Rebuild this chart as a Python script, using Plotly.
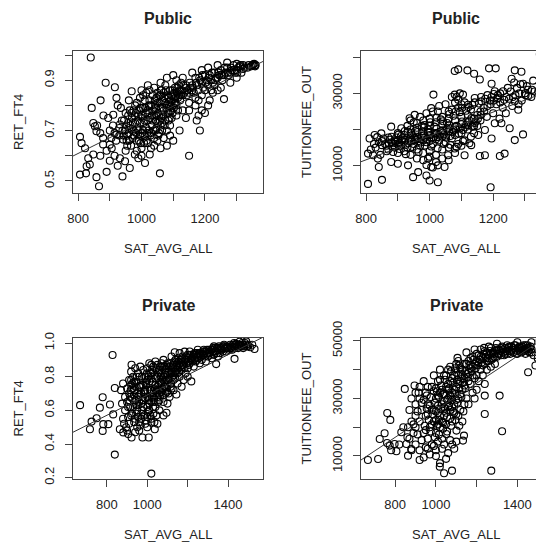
import plotly.graph_objects as go

# public schools: (SAT_AVG_ALL, RET_FT4)
public_ret = [
    (840, 0.99), (806, 0.525), (825, 0.53), (858, 0.515), (866, 0.479), (890, 0.536),
    (940, 0.518), (1058, 0.53), (1150, 0.60), (1184, 0.70), (1260, 0.825), (806, 0.675),
    (811, 0.65), (822, 0.63), (832, 0.59), (827, 0.558), (837, 0.565), (848, 0.605),
    (843, 0.79), (871, 0.82), (887, 0.89), (916, 0.872), (921, 0.83), (969, 0.856),
    (853, 0.717), (858, 0.697), (848, 0.73), (879, 0.67), (879, 0.645), (900, 0.644),
    (906, 0.63), (895, 0.75), (911, 0.763), (932, 0.724), (921, 0.684), (942, 0.664),
    (932, 0.59), (948, 0.578), (963, 0.551), (979, 0.605), (990, 0.59), (1011, 0.571),
    (1026, 0.605), (960, 0.69), (965, 0.72), (970, 0.75), (975, 0.78), (980, 0.80),
    (985, 0.66), (990, 0.70), (995, 0.73), (1000, 0.76), (1005, 0.79), (1010, 0.82),
    (1010, 0.68), (1015, 0.71), (1020, 0.74), (1025, 0.77), (1030, 0.80), (1035, 0.84),
    (1040, 0.87), (1040, 0.67), (1045, 0.70), (1050, 0.73), (1055, 0.76), (1060, 0.79),
    (1065, 0.82), (1070, 0.85), (1075, 0.88), (1080, 0.70), (1085, 0.74), (1090, 0.78),
    (1095, 0.81), (1100, 0.84), (1105, 0.87), (1110, 0.80), (1115, 0.83), (1120, 0.86),
    (1125, 0.89), (1130, 0.84), (1140, 0.87), (1150, 0.85), (1160, 0.88), (1170, 0.91),
    (1180, 0.86), (1190, 0.89), (1200, 0.92), (1210, 0.88), (1220, 0.90), (1230, 0.93),
    (1240, 0.91), (1250, 0.94), (1260, 0.92), (1270, 0.95), (1280, 0.93), (1290, 0.96),
    (1300, 0.94), (1310, 0.955), (1320, 0.96), (1335, 0.95), (1350, 0.96), (1355, 0.965),
    (1358, 0.955), (1360, 0.96), (1174, 0.74), (1180, 0.76), (1190, 0.78), (1200, 0.77),
    (1210, 0.80), (1215, 0.82), (1225, 0.85), (1240, 0.86), (1100, 0.66), (1080, 0.64),
    (1120, 0.70), (1140, 0.75), (1150, 0.78), (1060, 0.63), (1090, 0.68), (900, 0.70),
    (910, 0.72), (920, 0.66), (930, 0.68), (940, 0.70), (950, 0.62), (955, 0.64),
    (945, 0.74), (950, 0.77), (935, 0.79), (925, 0.80), (960, 0.82), (1000, 0.63),
    (1020, 0.65), (1030, 0.63), (1050, 0.66), (1000, 0.86), (1020, 0.88), (1060, 0.89),
    (1080, 0.91), (1100, 0.92), (1130, 0.91), (1160, 0.93), (1190, 0.94), (1210, 0.95),
    (1240, 0.96), (1270, 0.97), (1300, 0.965), (1320, 0.945), (1280, 0.89), (1300, 0.91),
    (1250, 0.87), (1230, 0.88), (860, 0.72), (870, 0.69), (880, 0.76), (890, 0.62),
    (870, 0.60), (900, 0.58), (915, 0.60), (925, 0.56), (985, 0.62), (1000, 0.60),
    (1040, 0.64), (1070, 0.67), (1090, 0.72), (1110, 0.76), (1130, 0.78), (1150, 0.81),
    (1170, 0.83), (1190, 0.84), (1200, 0.86), (1220, 0.86), (1050, 0.85), (1070, 0.78),
    (1090, 0.86), (1110, 0.90), (1140, 0.88), (1160, 0.86), (1170, 0.80), (1180, 0.82),
    (960, 0.66), (975, 0.70), (990, 0.76), (1005, 0.70), (1020, 0.78), (1035, 0.74),
    (1045, 0.79), (1060, 0.72), (1065, 0.70), (980, 0.73), (995, 0.68), (1010, 0.74),
    (1030, 0.69), (1040, 0.76), (1050, 0.81), (1060, 0.84), (1080, 0.80), (1095, 0.84),
    (1075, 0.74), (1085, 0.83),
    (955, 0.68), (962, 0.71), (968, 0.77), (972, 0.67), (978, 0.76), (983, 0.69),
    (988, 0.74), (993, 0.78), (997, 0.65), (1002, 0.69), (1007, 0.73), (1012, 0.79),
    (1016, 0.66), (1022, 0.70), (1027, 0.75), (1032, 0.72), (1037, 0.78), (1042, 0.82),
    (1047, 0.71), (1052, 0.77), (1057, 0.81), (1062, 0.75), (1067, 0.79), (1072, 0.83),
    (1077, 0.86), (1082, 0.77), (1087, 0.80), (1092, 0.82), (1097, 0.86), (1102, 0.79),
    (1107, 0.83), (1112, 0.85), (1117, 0.88), (1122, 0.82), (1127, 0.86), (1135, 0.85),
    (1145, 0.86), (1155, 0.87), (1165, 0.85), (1175, 0.88), (1185, 0.90), (1195, 0.87),
    (1205, 0.90), (1215, 0.92), (1225, 0.89), (1235, 0.91), (1245, 0.92), (1255, 0.90),
    (1265, 0.93), (1275, 0.92), (1285, 0.94), (1295, 0.93), (1305, 0.95), (1315, 0.93),
    (1325, 0.95), (1345, 0.955), (1352, 0.962), (1357, 0.958), (930, 0.71), (938, 0.74),
    (944, 0.68), (952, 0.72), (958, 0.76), (915, 0.69), (905, 0.67), (985, 0.81),
    (995, 0.83), (1015, 0.85), (1025, 0.82), (1045, 0.74), (1055, 0.69), (1065, 0.73),
    (1075, 0.81), (1085, 0.77), (1095, 0.75), (1105, 0.81), (1115, 0.78), (1125, 0.84),
    (948, 0.70), (953, 0.66), (958, 0.73), (963, 0.78), (967, 0.64), (973, 0.73),
    (977, 0.68), (982, 0.77), (987, 0.71), (992, 0.66), (997, 0.79), (1003, 0.75),
    (1008, 0.65), (1013, 0.77), (1018, 0.69), (1023, 0.80), (1028, 0.68), (1033, 0.76),
    (1038, 0.70), (1043, 0.80), (1048, 0.76), (1053, 0.68), (1058, 0.74), (1063, 0.86),
    (1068, 0.76), (1073, 0.72), (1078, 0.79), (1083, 0.84), (1088, 0.75), (1093, 0.80),
    (1098, 0.77), (1103, 0.85), (1108, 0.81), (1113, 0.87), (1118, 0.84), (1132, 0.88),
    (1142, 0.84), (1152, 0.89), (1162, 0.87), (1172, 0.89), (1182, 0.91), (1192, 0.92),
    (1202, 0.89), (1212, 0.91), (1222, 0.93), (1232, 0.90), (1242, 0.93), (1252, 0.92),
    (1262, 0.95), (1272, 0.93), (1282, 0.95), (1292, 0.94), (1302, 0.93), (1312, 0.96),
    (1338, 0.96), (1062, 0.86), (1057, 0.84), (1047, 0.83), (1025, 0.86), (1005, 0.84),
]

# public schools: (SAT_AVG_ALL, TUITIONFEE_OUT)
public_fee = [
    (806, 4975), (850, 6090), (948, 6840), (964, 8230), (990, 7300), (1000, 5900),
    (1026, 5440), (1192, 4040), (1079, 36160), (1090, 36630), (1119, 36350), (1140, 35420),
    (1158, 33840), (1187, 36910), (1208, 36910), (1268, 36350), (1289, 35980), (1258, 34020),
    (1294, 32630), (1347, 40820), (1354, 38490), (1347, 30110), (1310, 29180), (1195, 32630),
    (1205, 30580), (1215, 28710), (1231, 30580), (1268, 27780), (1279, 25460), (1252, 20340),
    (1268, 17080), (1294, 18660), (1226, 21730), (1205, 21730), (1236, 13350), (1221, 12700),
    (1174, 12890), (1158, 12700), (1195, 17540), (1174, 19870), (1012, 29650), (1079, 29650),
    (1105, 29650), (1090, 28250), (1142, 28710), (1163, 27780), (1121, 26850), (811, 17540),
    (827, 18480), (848, 18940), (850, 15680), (806, 13350), (822, 12890), (837, 11960),
    (840, 9630), (879, 20800), (879, 11030), (900, 10560), (932, 10100), (937, 23130),
    (953, 24060), (911, 20340), (932, 19410), (984, 21270), (1005, 25920), (1026, 24990),
    (995, 11960), (1005, 9630), (1026, 10100), (1047, 9630), (1058, 12890), (1079, 14750),
    (1110, 12890), (1131, 15680), (1153, 18480), (860, 16000), (880, 16500), (900, 17000),
    (920, 16500), (940, 17500), (960, 18000), (980, 17000), (1000, 18500), (1020, 19000),
    (1040, 18000), (1060, 19500), (1080, 18500), (1100, 19000), (1120, 20000), (1140, 19000),
    (870, 14500), (890, 15000), (910, 15500), (930, 15000), (950, 16000), (970, 15500),
    (990, 16500), (1010, 16000), (1030, 17000), (1050, 16500), (1070, 17500), (1090, 16000),
    (1110, 17000), (1130, 18000), (1150, 21000), (880, 18000), (900, 19000), (920, 18500),
    (940, 20000), (960, 20500), (980, 19500), (1000, 21000), (1020, 22000), (1040, 21500),
    (1060, 23000), (1080, 22500), (1100, 23500), (1120, 24000), (1140, 23000), (1160, 25000),
    (900, 13500), (920, 14000), (940, 13000), (960, 14500), (980, 13500), (1000, 14000),
    (1020, 13000), (1040, 14500), (1060, 15000), (1080, 13500), (1100, 15500), (950, 22000),
    (970, 23500), (990, 24500), (1010, 25000), (1030, 26500), (1050, 27000), (1070, 25500),
    (1090, 26000), (1110, 27500), (1130, 25500), (1150, 24000), (1170, 26000), (1190, 28000),
    (1210, 27000), (1230, 26000), (1250, 28500), (1270, 29500), (1290, 28000), (1310, 31000),
    (1330, 30500), (1350, 31500), (960, 12000), (980, 11500), (1000, 12500), (1020, 11000),
    (1040, 12000), (1060, 11500), (990, 10200), (1010, 9500), (830, 15000), (840, 16500),
    (855, 17500), (865, 14000), (845, 13000), (815, 14500), (1000, 16800), (1020, 17300),
    (1040, 19800), (1060, 20500), (1080, 20800), (1100, 21500), (1120, 22000), (1140, 21000),
    (1160, 22500), (1180, 23500), (1200, 24500), (1220, 23000), (1240, 24500), (1260, 26500),
    (1280, 27000), (1300, 30000), (1320, 29000),
    (865, 15500), (875, 17200), (885, 16200), (895, 17800), (905, 16300), (915, 17600),
    (925, 15800), (935, 16800), (945, 18500), (955, 17200), (965, 16800), (975, 18200),
    (985, 17800), (995, 19200), (1005, 17600), (1015, 18800), (1025, 17900), (1035, 19500),
    (1045, 18700), (1055, 20200), (1065, 18200), (1075, 19800), (1085, 21000), (1095, 20300),
    (1105, 19900), (1115, 21300), (1125, 22500), (1135, 20800), (1145, 22200), (885, 13800),
    (905, 14600), (925, 13200), (945, 15200), (965, 13800), (985, 15600), (1005, 15300),
    (1025, 14800), (1045, 16000), (1065, 15800), (1085, 15200), (1105, 16800), (1125, 16200),
    (955, 19600), (975, 21000), (995, 20000), (1015, 20800), (1035, 22800), (1055, 21800),
    (1075, 23800), (1095, 24800), (1115, 25200), (1135, 26800), (1155, 27200), (1175, 28500),
    (1195, 29000), (1215, 29500), (1235, 28200), (1255, 30500), (1275, 31500), (1080, 27500),
    (1095, 30000), (1085, 29000), (1100, 27000), (1070, 29000), (1040, 23500), (1060, 25000),
    (1000, 23000), (980, 22500), (960, 21800), (940, 22500), (930, 21000), (910, 18200),
    (890, 17000), (870, 17800), (850, 16800), (835, 17900), (825, 16000),
    (872, 16200), (882, 15400), (892, 16600), (902, 15800), (912, 16900), (922, 17200),
    (932, 16200), (942, 16700), (952, 17800), (962, 17400), (972, 16400), (982, 18400),
    (992, 17400), (1002, 19400), (1012, 17800), (1022, 20200), (1032, 18300), (1042, 19100),
    (1052, 17800), (1062, 21200), (1072, 19400), (1082, 20000), (1092, 18800), (1102, 22200),
    (1112, 20600), (1122, 21200), (1132, 23200), (1142, 21800), (1152, 23000), (1162, 24000),
    (1172, 25000), (1182, 26500), (1192, 27000), (1202, 28000), (1212, 28500), (1222, 27500),
    (1242, 29000), (1262, 29000), (1282, 30000), (1302, 29500), (1322, 31000), (1342, 30500),
    (902, 18600), (922, 19600), (942, 19000), (962, 19300), (982, 20600), (1002, 22000),
    (1022, 23300), (1042, 22300), (1062, 24300), (1082, 25000), (1102, 26000), (1122, 26200),
    (1142, 27500), (1162, 29000), (1182, 29500), (1202, 29800), (1222, 30000), (1246, 31500),
    (1266, 33000), (1286, 32500), (1306, 32000), (1326, 33500),
]

# private schools: (SAT_AVG_ALL, RET_FT4)
private_ret = [
    (667, 0.631), (828, 0.929), (839, 0.337), (1020, 0.224), (922, 0.871), (716, 0.488),
    (724, 0.533), (749, 0.553), (765, 0.616), (779, 0.678), (782, 0.518), (779, 0.478),
    (807, 0.518), (815, 0.635), (831, 0.576), (839, 0.733), (864, 0.488), (881, 0.469),
    (905, 0.459), (922, 0.439), (976, 0.439), (1007, 0.439), (1037, 0.488), (1020, 0.527),
    (1095, 0.586), (1144, 0.694), (1218, 0.772), (1136, 0.945), (1185, 0.949), (1341, 0.875),
    (1432, 0.906), (1531, 0.965), (1457, 1.008), (880, 0.55), (890, 0.60), (900, 0.65),
    (910, 0.70), (920, 0.75), (930, 0.80), (890, 0.68), (900, 0.73), (910, 0.78),
    (920, 0.83), (880, 0.76), (870, 0.72), (875, 0.64), (885, 0.52), (895, 0.50),
    (905, 0.56), (915, 0.62), (925, 0.67), (935, 0.72), (945, 0.77), (955, 0.82),
    (965, 0.86), (940, 0.55), (950, 0.60), (960, 0.65), (970, 0.70), (980, 0.75),
    (990, 0.80), (1000, 0.85), (1010, 0.88), (950, 0.50), (960, 0.53), (970, 0.58),
    (980, 0.62), (990, 0.67), (1000, 0.72), (1010, 0.77), (1020, 0.82), (1030, 0.86),
    (1040, 0.89), (990, 0.52), (1000, 0.56), (1010, 0.60), (1020, 0.65), (1030, 0.70),
    (1040, 0.75), (1050, 0.80), (1060, 0.84), (1070, 0.88), (1020, 0.55), (1040, 0.62),
    (1050, 0.68), (1060, 0.72), (1070, 0.76), (1080, 0.80), (1090, 0.84), (1100, 0.88),
    (1080, 0.65), (1090, 0.70), (1100, 0.75), (1110, 0.79), (1120, 0.83), (1130, 0.87),
    (1140, 0.90), (1110, 0.68), (1120, 0.73), (1130, 0.78), (1140, 0.82), (1150, 0.85),
    (1160, 0.88), (1170, 0.91), (1150, 0.76), (1160, 0.80), (1170, 0.84), (1180, 0.87),
    (1190, 0.90), (1200, 0.93), (1190, 0.82), (1200, 0.85), (1210, 0.88), (1220, 0.91),
    (1230, 0.93), (1240, 0.89), (1250, 0.92), (1260, 0.94), (1270, 0.90), (1280, 0.93),
    (1290, 0.95), (1300, 0.92), (1310, 0.94), (1320, 0.96), (1330, 0.93), (1340, 0.95),
    (1350, 0.97), (1360, 0.94), (1370, 0.96), (1380, 0.98), (1390, 0.95), (1400, 0.97),
    (1410, 0.99), (1420, 0.96), (1430, 0.98), (1440, 0.995), (1450, 0.97), (1460, 0.99),
    (1470, 1.0), (1480, 0.98), (1490, 0.99), (1500, 0.985), (1510, 0.975), (1520, 0.99),
    (1200, 0.80), (1230, 0.86), (1260, 0.88), (1290, 0.89), (1320, 0.91), (1350, 0.92),
    (1180, 0.78), (1170, 0.74), (1130, 0.72), (1100, 0.64), (1060, 0.60), (1030, 0.58),
    (1000, 0.62), (970, 0.64), (960, 0.74), (950, 0.70), (940, 0.66), (930, 0.62),
    (920, 0.57), (910, 0.52), (900, 0.48), (940, 0.47), (960, 0.48), (1000, 0.50),
    (1050, 0.52), (1080, 0.57), (1000, 0.78), (1020, 0.72), (1050, 0.74), (1070, 0.82),
    (1090, 0.78), (1110, 0.86), (1130, 0.81), (1060, 0.66), (990, 0.70), (980, 0.84),
    (1050, 0.87), (1080, 0.90), (1120, 0.92), (1160, 0.94), (1210, 0.95), (1250, 0.96),
    (940, 0.85), (920, 0.78), (960, 0.80), (1020, 0.87), (1000, 0.68), (970, 0.55),
    (1010, 0.64), (1040, 0.70), (1070, 0.71), (1090, 0.74), (1150, 0.82), (1200, 0.89),
    (1240, 0.93), (1280, 0.96), (1330, 0.98), (1380, 0.99), (1430, 1.0), (1490, 1.01),
    (905, 0.62), (912, 0.66), (918, 0.72), (926, 0.76), (934, 0.69), (942, 0.74),
    (948, 0.80), (956, 0.63), (962, 0.69), (968, 0.75), (974, 0.80), (982, 0.66),
    (988, 0.72), (994, 0.77), (998, 0.82), (1004, 0.59), (1008, 0.67), (1014, 0.72),
    (1018, 0.79), (1024, 0.84), (1028, 0.62), (1034, 0.67), (1038, 0.73), (1044, 0.79),
    (1048, 0.84), (1054, 0.65), (1058, 0.70), (1064, 0.77), (1068, 0.80), (1074, 0.86),
    (1078, 0.69), (1084, 0.74), (1088, 0.81), (1094, 0.87), (1098, 0.71), (1104, 0.78),
    (1108, 0.83), (1114, 0.88), (1118, 0.76), (1124, 0.80), (1128, 0.85), (1134, 0.89),
    (1138, 0.79), (1144, 0.84), (1148, 0.88), (1154, 0.91), (1158, 0.83), (1164, 0.86),
    (1168, 0.89), (1174, 0.92), (1184, 0.85), (1194, 0.88), (1204, 0.91), (1214, 0.93),
    (1224, 0.89), (1234, 0.91), (1244, 0.94), (1254, 0.91), (1264, 0.93), (1274, 0.95),
    (1284, 0.92), (1294, 0.94), (1304, 0.96), (1314, 0.93), (1324, 0.95), (1334, 0.97),
    (1344, 0.94), (1354, 0.96), (1364, 0.97), (1374, 0.95), (1384, 0.97), (1394, 0.98),
    (1404, 0.96), (1414, 0.98), (1424, 0.99), (1434, 0.97), (1444, 0.98), (1454, 0.99),
    (1464, 0.98), (1474, 0.99), (1484, 1.0), (1494, 0.98), (925, 0.58), (935, 0.53),
    (945, 0.58), (955, 0.56), (965, 0.51), (975, 0.60), (985, 0.57), (995, 0.54),
    (1015, 0.57), (1035, 0.53), (1045, 0.57),
    (915, 0.68), (925, 0.73), (935, 0.77), (945, 0.63), (955, 0.68), (965, 0.74),
    (975, 0.66), (985, 0.71), (995, 0.75), (1005, 0.66), (1005, 0.80), (1015, 0.70),
    (1015, 0.82), (1025, 0.68), (1025, 0.77), (1035, 0.65), (1035, 0.81), (1045, 0.72),
    (1045, 0.85), (1055, 0.75), (1055, 0.82), (1065, 0.69), (1065, 0.86), (1075, 0.73),
    (1075, 0.79), (1085, 0.77), (1085, 0.86), (1095, 0.81), (1095, 0.73), (1105, 0.85),
    (1105, 0.70), (1115, 0.82), (1115, 0.74), (1125, 0.86), (1135, 0.83), (1145, 0.87),
    (1155, 0.89), (1165, 0.90), (1175, 0.87), (1185, 0.89), (1195, 0.92), (1205, 0.87),
    (1215, 0.90), (1225, 0.92), (1235, 0.94), (1245, 0.90), (1255, 0.94), (1265, 0.92),
    (1275, 0.93), (1285, 0.95), (1295, 0.96), (1305, 0.94), (1315, 0.96), (1325, 0.97),
    (1335, 0.95), (1345, 0.97), (1355, 0.98), (1365, 0.96), (1375, 0.98), (1395, 0.97),
    (1415, 0.97), (1435, 0.99), (1455, 0.98), (1475, 0.97),
]

# private schools: (SAT_AVG_ALL, TUITIONFEE_OUT)
private_fee = [
    (666, 8620), (716, 8970), (761, 24960), (776, 22530), (748, 17890), (724, 15920),
    (773, 13600), (806, 11630), (830, 18240), (847, 33310), (920, 8620), (1019, 6300),
    (1040, 3990), (1079, 4910), (1272, 4910), (1325, 18590), (1313, 30990), (1240, 24610),
    (1240, 30990), (1106, 44090), (1237, 47560), (1453, 39100), (1489, 41420), (1526, 41770),
    (1469, 49530), (1510, 50110), (1133, 15340), (1138, 17080), (1101, 18820), (1051, 17660),
    (863, 10120), (879, 12440), (797, 14180), (855, 14180), (863, 19980), (900, 20000),
    (900, 24000), (900, 28000), (920, 30000), (920, 22000), (930, 26000), (940, 18000),
    (950, 32000), (950, 24000), (960, 28000), (960, 16000), (970, 20000), (980, 34000),
    (980, 26000), (990, 22000), (1000, 30000), (1000, 18000), (1010, 36000), (1010, 25000),
    (1020, 20000), (1020, 32000), (1030, 28000), (1030, 16000), (1040, 38000), (1040, 24000),
    (1050, 34000), (1050, 21000), (1060, 30000), (1060, 40000), (1070, 26000), (1070, 36000),
    (1080, 32000), (1080, 22000), (1090, 38000), (1090, 28000), (1100, 34000), (1100, 42000),
    (1110, 30000), (1110, 38000), (1120, 36000), (1120, 26000), (1130, 40000), (1130, 33000),
    (1140, 37000), (1150, 42000), (1150, 30000), (1160, 39000), (1170, 44000), (1170, 35000),
    (1180, 41000), (1190, 37000), (1200, 43000), (1200, 33000), (1210, 45000), (1220, 40000),
    (1230, 44000), (1240, 42000), (1250, 46000), (1260, 43000), (1270, 45500), (1280, 44000),
    (1290, 46500), (1300, 44500), (1310, 47000), (1320, 45000), (1330, 46000), (1340, 47500),
    (1350, 45500), (1360, 46500), (1370, 48000), (1380, 46000), (1390, 47000), (1400, 46500),
    (1410, 48000), (1420, 46000), (1430, 47000), (1440, 45500), (1450, 47500), (1460, 46000),
    (1470, 47000), (1480, 45000), (1500, 44000), (1515, 46000), (960, 34000), (990, 38000),
    (1020, 40000), (940, 36000), (920, 34000), (900, 32000), (880, 30000), (870, 26000),
    (880, 22000), (890, 18000), (870, 16000), (900, 14000), (920, 12000), (950, 13000),
    (980, 14000), (1000, 12000), (1030, 12500), (1060, 11000), (1080, 14000), (1100, 15000),
    (1000, 10000), (970, 10500), (940, 9500), (1050, 9000), (1020, 7500), (1110, 24000),
    (1130, 22000), (1160, 28000), (1190, 30000), (1210, 36000), (1230, 38000), (1250, 40000),
    (1270, 41000), (1290, 42000), (880, 12000), (860, 16500), (840, 20000), (820, 14000),
    (780, 12000), (760, 14500), (1000, 22500), (1010, 27500), (990, 32500), (1040, 29000),
    (1060, 35000), (1080, 27000), (1100, 24500), (1140, 28000), (1180, 32000), (1200, 38000),
    (1240, 35000), (1150, 46000), (1190, 47000), (1220, 47000), (1260, 48000), (1300, 49000),
    (1350, 48500), (1400, 49500), (1440, 48500),
    (945, 20500), (955, 26500), (965, 22500), (975, 30500), (985, 24500), (995, 28500),
    (1005, 20500), (1005, 32500), (1015, 22500), (1015, 30500), (1025, 26500), (1025, 34500),
    (1035, 21500), (1035, 31500), (1045, 26500), (1045, 36500), (1055, 23500), (1055, 29500),
    (1065, 27500), (1065, 33500), (1075, 30500), (1075, 39500), (1085, 25500), (1085, 35500),
    (1095, 31500), (1095, 40500), (1105, 28500), (1105, 36500), (1115, 33500), (1115, 41500),
    (1125, 30500), (1125, 38500), (1135, 35500), (1145, 39500), (1145, 33500), (1155, 37500),
    (1165, 41500), (1175, 39500), (1185, 43500), (1195, 40500), (1205, 41500), (1215, 43500),
    (1225, 42500), (1235, 45500), (1245, 44500), (1255, 44000), (1265, 46500), (1275, 43500),
    (1285, 45500), (1295, 47500), (1305, 45500), (1315, 46500), (1325, 48000), (1335, 45000),
    (1345, 46500), (1355, 47500), (1365, 45500), (1375, 47000), (1385, 48500), (1395, 45500),
    (1405, 47500), (1415, 46500), (1425, 48000), (1435, 46500), (1445, 47500), (1455, 46500),
    (1465, 48000), (975, 18500), (995, 16500), (1015, 17500), (1035, 19500), (1055, 18500),
    (1075, 20500), (1095, 22500), (1115, 20500), (1135, 25500), (960, 12500), (990, 13500),
    (1010, 15000), (1040, 14000), (1070, 15500), (1090, 12500), (930, 15500), (910, 17500),
    (890, 21000), (910, 25500), (930, 28500), (915, 32000), (940, 29500), (955, 31000),
    (895, 34500),
    (950, 19000), (960, 24500), (970, 27500), (980, 21000), (990, 26000), (1000, 33500),
    (1000, 25500), (1010, 21000), (1010, 31000), (1020, 24000), (1020, 36500), (1030, 22000),
    (1030, 33000), (1040, 27000), (1040, 31500), (1050, 25000), (1050, 38000), (1060, 27000),
    (1060, 33000), (1070, 23000), (1070, 31000), (1070, 41000), (1080, 29500), (1080, 37000),
    (1090, 25000), (1090, 33000), (1100, 29500), (1100, 39000), (1110, 35000), (1110, 43000),
    (1120, 31500), (1120, 40500), (1130, 37000), (1140, 34500), (1140, 42000), (1150, 38500),
    (1160, 36000), (1160, 43000), (1170, 40500), (1180, 38000), (1180, 44500), (1190, 42000),
    (1200, 45500), (1210, 42500), (1220, 44500), (1230, 41500), (1240, 46500), (1250, 43000),
    (1260, 45000), (1270, 47500), (1280, 46000), (1290, 44500), (1300, 47000), (1310, 45500),
    (1320, 47500), (1330, 47000), (1340, 45500), (1350, 47000), (1360, 48000), (1370, 46500),
    (1380, 47500), (1390, 48500), (1400, 45500), (1410, 47000), (1420, 47500), (1430, 48500),
    (1440, 47000), (1450, 48500), (1460, 47500), (1470, 46000),
]

# fitted lines: (intercept, slope)
public_ret_fit = (0.1074, 0.000627)
public_fee_fit = (-14772, 33.0)
private_ret_fit = (0.0908, 0.0006)
private_fee_fit = (-21104, 47.0)

# the page puts the figure 8px in from the top-left corner
W = 536
OFF = 8


def px_x(p):
    return (p - OFF) / W


def px_y(p):
    return 1 - (p - OFF) / W


top_row = [px_y(193), px_y(51)]
bottom_row = [px_y(479), px_y(338)]
left_col = [px_x(73), px_x(263)]
right_col = [px_x(361), 1.0]
box_w = left_col[1] - left_col[0]

panels = [
    # data, fit, title, ytitle, xrange, yrange, xticks, xlabels, yticks, ylabels, xdomain, ydomain
    (public_ret, public_ret_fit, "Public", "RET_FT4", [784, 1383], [0.452, 1.016],
     [800, 900, 1000, 1100, 1200, 1300], ["800", "", "1000", "", "1200", ""],
     [0.5, 0.6, 0.7, 0.8, 0.9, 1.0], ["0.5", "", "0.7", "", "0.9", ""],
     left_col, top_row),
    (public_fee, public_fee_fit, "Public", "TUITIONFEE_OUT", [784, 1360], [2460, 41700],
     [800, 900, 1000, 1100, 1200, 1300], ["800", "", "1000", "", "1200", ""],
     [10000, 20000, 30000, 40000], ["10000", "", "30000", ""],
     right_col, top_row),
    (private_ret, private_ret_fit, "Private", "RET_FT4", [632, 1573], [0.192, 1.03],
     [800, 1000, 1200, 1400], ["800", "1000", "", "1400"],
     [0.2, 0.4, 0.6, 0.8, 1.0], ["0.2", "0.4", "0.6", "0.8", "1.0"],
     left_col, bottom_row),
    (private_fee, private_fee_fit, "Private", "TUITIONFEE_OUT", [632, 1531], [2000, 51000],
     [800, 1000, 1200, 1400], ["800", "1000", "", "1400"],
     [10000, 20000, 30000, 40000, 50000], ["10000", "", "30000", "", "50000"],
     right_col, bottom_row),
]

font = "Liberation Sans, Arial, Helvetica, sans-serif"
ink = "#222"
axis_ink = "#444"

fig = go.Figure()
annotations = []
layout = {}

for i, (pts, fit, title, ytitle, xr, yr, xt, xl, yt, yl, xd, yd) in enumerate(panels):
    n = "" if i == 0 else str(i + 1)
    xs = [p[0] for p in pts]
    ys = [p[1] for p in pts]
    fig.add_trace(go.Scatter(
        x=xs, y=ys, mode="markers", xaxis="x" + n, yaxis="y" + n,
        marker=dict(symbol="circle-open", size=7, color="black", line=dict(width=1.1)),
        showlegend=False, hoverinfo="skip",
    ))
    b, m = fit
    fig.add_trace(go.Scatter(
        x=[xr[0], xr[1]], y=[b + m * xr[0], b + m * xr[1]], mode="lines",
        xaxis="x" + n, yaxis="y" + n, line=dict(color="#333", width=1),
        showlegend=False, hoverinfo="skip",
    ))
    left = xd[1] < 0.9
    layout["xaxis" + n] = dict(
        domain=xd, range=xr, anchor="y" + n, tickmode="array", tickvals=xt, ticktext=xl,
        ticks="outside", ticklen=7, tickcolor=axis_ink, ticklabelstandoff=6,
        showline=True, linecolor=axis_ink, linewidth=1, mirror=True, automargin=False,
        showgrid=False, zeroline=False, tickfont=dict(size=13, color=ink),
    )
    layout["yaxis" + n] = dict(
        domain=yd, range=yr, anchor="x" + n, tickmode="array", tickvals=yt, ticktext=yl,
        ticks="outside", ticklen=7, tickcolor=axis_ink, tickangle=-90, ticklabelstandoff=6,
        showline=True, linecolor=axis_ink, linewidth=1, mirror=left, automargin=False,
        showgrid=False, zeroline=False, tickfont=dict(size=13, color=ink),
    )
    # the right-hand panels run off the page, so centre on the full box width
    cx = xd[0] + box_w / 2
    annotations.append(dict(
        text="<b>" + title + "</b>", x=cx, y=yd[1] + 33 / W, xref="paper", yref="paper",
        showarrow=False, font=dict(size=16, color=ink), xanchor="center", yanchor="middle",
    ))
    annotations.append(dict(
        text="SAT_AVG_ALL", x=cx, y=yd[0] - 55 / W, xref="paper", yref="paper",
        showarrow=False, font=dict(size=13, color=ink), xanchor="center", yanchor="middle",
    ))
    annotations.append(dict(
        text=ytitle, x=xd[0] - 55 / W, y=(yd[0] + yd[1]) / 2, xref="paper", yref="paper",
        showarrow=False, textangle=-90, font=dict(size=13, color=ink),
        xanchor="center", yanchor="middle",
    ))

fig.update_layout(
    width=W, height=W, margin=dict(l=0, r=0, t=0, b=0, autoexpand=False),
    paper_bgcolor="white", plot_bgcolor="white",
    font=dict(family=font, size=13, color=ink),
    annotations=annotations, **layout,
)

fig.write_html("out.html")
